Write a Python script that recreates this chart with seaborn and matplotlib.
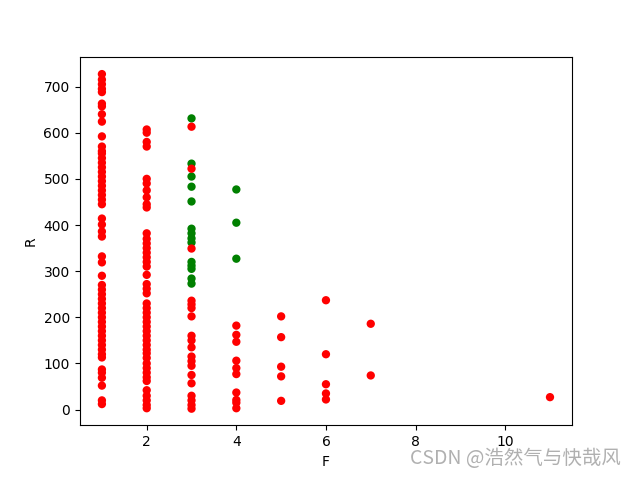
import matplotlib
matplotlib.use("Agg")
import matplotlib.pyplot as plt
import seaborn as sns
import pandas as pd

# F=1..11 red points (R values)
red_f1 = [727, 715, 705, 695, 688, 663, 657, 640, 624, 592, 570, 560, 555, 545, 535, 525, 515,
          505, 495, 485, 475, 465, 455, 445, 414, 401, 386, 375, 332, 319, 290, 270, 260, 250,
          240, 230, 220, 210, 200, 190, 180, 170, 160, 150, 140, 130, 120, 113, 87, 80, 69, 52,
          20, 12]
red_f2 = [607, 600, 580, 570, 500, 490, 475, 460, 445, 438, 382, 370, 360, 350, 340, 330, 320,
          310, 292, 272, 262, 252, 230, 220, 210, 200, 190, 180, 170, 160, 150, 140, 130, 122,
          112, 100, 90, 80, 70, 62, 42, 30, 20, 10, 3]
red_f3 = [613, 522, 349, 236, 228, 220, 202, 160, 150, 135, 115, 105, 95, 75, 57, 30, 20, 10, 2]
red_f4 = [182, 162, 147, 106, 90, 77, 37, 21, 15, 3]
red_f5 = [202, 157, 93, 72, 19]
red_f6 = [237, 120, 55, 35, 22]
red_f7 = [186, 74]
red_f11 = [27]

green_f3 = [631, 533, 505, 483, 451, 392, 382, 371, 362, 320, 312, 305, 284, 273]
green_f4 = [477, 405, 327]

F_vals, R_vals, grp = [], [], []
for f, vals in [(3, green_f3), (4, green_f4)]:
    for v in vals:
        F_vals.append(f); R_vals.append(v); grp.append("g")
for f, vals in [(1, red_f1), (2, red_f2), (3, red_f3), (4, red_f4), (5, red_f5),
                (6, red_f6), (7, red_f7), (11, red_f11)]:
    for v in vals:
        F_vals.append(f); R_vals.append(v); grp.append("r")

df = pd.DataFrame({"F": F_vals, "R": R_vals, "grp": grp})

fig, ax = plt.subplots(figsize=(6.36, 4.78), dpi=100)
sns.scatterplot(data=df, x="F", y="R", hue="grp", hue_order=["g", "r"],
                palette={"g": "green", "r": "red"}, s=20, linewidth=1.5,
                edgecolor="face", legend=False, ax=ax)
ax.set_xlabel("F")
ax.set_ylabel("R")
fig.subplots_adjust(left=0.125, right=0.9, bottom=0.11, top=0.88)
fig.text(0.976, 0.018, "CSDN @浩然气与快哉风", ha="right", va="bottom", fontsize=14,
         color="#a8a8a8", alpha=0.9, family=["Noto Sans CJK SC", "DejaVu Sans"])
fig.savefig("out.png", dpi=100)
